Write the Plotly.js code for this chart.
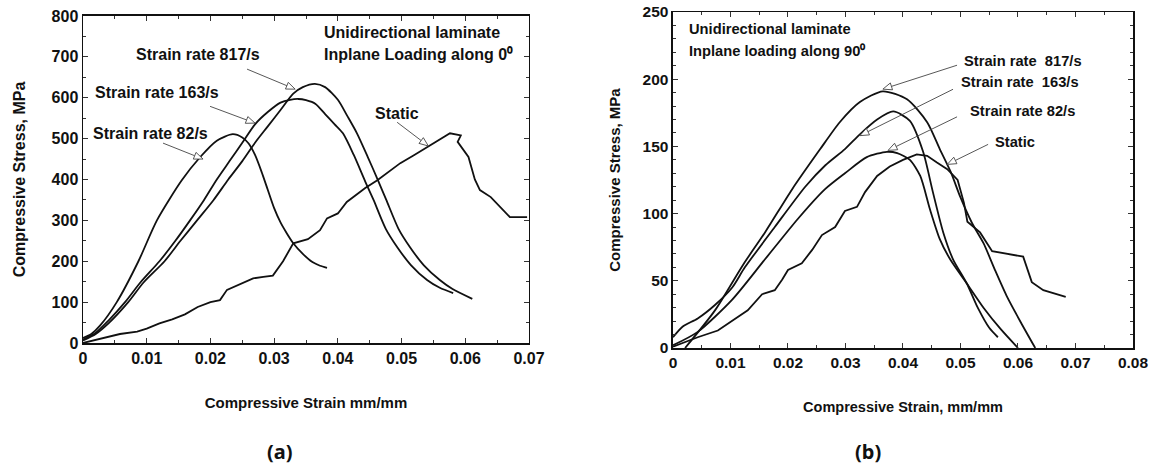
<!DOCTYPE html>
<html>
<head>
<meta charset="utf-8">
<script src="https://cdn.plot.ly/plotly-3.0.1.min.js"></script>
<style>html,body{margin:0;padding:0;background:#fff;}#chart{width:1151px;height:469px;}</style>
</head>
<body>
<div id="chart"></div>
<script>
// ---------- (a) Inplane loading along 0 deg ----------
const a82Strain = [0,0.0013,0.0027,0.0053,0.0087,0.0116,0.0155,0.0184,0.021,0.0235,0.025,0.026,0.027,0.028,0.029,0.030,0.031,0.032,0.033,0.0345,0.036,0.0372,0.0383];
const a82Stress = [12,22,43,100,200,300,398,455,495,511,503,488,460,420,375,330,295,268,244,218,198,189,184];

const a163Strain = [0,0.002,0.004,0.0066,0.009,0.012,0.0145,0.0168,0.019,0.021,0.023,0.025,0.027,0.029,0.031,0.0325,0.0338,0.035,0.0365,0.038,0.0395,0.0408,0.0425,0.0443,0.0456,0.0475,0.0493,0.0515,0.054,0.056,0.0581];
const a163Stress = [8,25,55,100,148,200,250,300,350,400,445,490,535,565,588,595,597,594,585,560,535,513,460,395,350,280,235,190,154,135,122];

const a817Strain = [0,0.002,0.004,0.0071,0.0095,0.0128,0.0153,0.0179,0.0205,0.0228,0.025,0.027,0.029,0.031,0.033,0.0345,0.0364,0.038,0.040,0.0415,0.043,0.0447,0.0463,0.0476,0.0495,0.0513,0.0535,0.056,0.058,0.0611];
const a817Stress = [6,22,48,100,148,200,250,300,350,400,445,490,530,570,610,626,634,626,595,555,513,455,398,350,280,235,190,154,132,108];

const aStaticStrain = [0,0.003,0.0058,0.0085,0.010,0.012,0.014,0.016,0.018,0.020,0.0215,0.0226,0.024,0.0255,0.0267,0.0283,0.0298,0.0314,0.033,0.0353,0.0372,0.0383,0.040,0.0414,0.0443,0.0462,0.048,0.0498,0.052,0.054,0.0565,0.0576,0.0593,0.0588,0.0605,0.0615,0.0623,0.064,0.067,0.0697];
const aStaticStress = [0,12,22,28,35,48,58,70,88,100,105,130,140,150,158,162,165,200,244,254,276,305,317,345,379,398,420,440,460,479,504,513,508,492,455,400,374,357,308,308];

// ---------- (b) Inplane loading along 90 deg ----------
const b817Strain = [0.0021,0.0073,0.0122,0.016,0.0207,0.0256,0.029,0.0325,0.0365,0.0407,0.0442,0.0464,0.0483,0.050,0.052,0.054,0.056,0.058,0.0605,0.063];
const b817Stress = [0,28,62,86,118,148,168,183,191,185,168,148,131,112,93,78,58,39,19,0];

const b163Strain = [0,0.0017,0.0043,0.0073,0.0103,0.0125,0.0177,0.023,0.0265,0.0299,0.0325,0.0355,0.0383,0.0412,0.0435,0.0452,0.047,0.0487,0.0511,0.053,0.055,0.0565];
const b163Stress = [8,16,22,32,45,60,90,120,136,148,159,170,176,169,146,116,86,66,48,30,15,8];

const b82Strain = [0,0.0043,0.0103,0.016,0.0217,0.0264,0.0299,0.0337,0.0372,0.039,0.0412,0.043,0.0447,0.0464,0.0482,0.0511,0.054,0.057,0.060];
const b82Stress = [2,12,36,66,96,118,130,142,146,145,140,128,103,81,66,48,30,14,0];

const bStaticStrain = [0,0.0043,0.0078,0.013,0.0155,0.0177,0.019,0.020,0.0224,0.0242,0.0259,0.0282,0.0299,0.032,0.0334,0.0355,0.0377,0.040,0.0424,0.0442,0.0459,0.0477,0.0495,0.0506,0.0512,0.0534,0.0555,0.0609,0.0624,0.0644,0.0683];
const bStaticStress = [1,8,13,28,40,43,51,58,63,73,84,90,102,105,116,128,135,140,144,143,138,133,125,108,94,86,72,68,49,43,38];

const FONT = 'Liberation Sans, Arial, sans-serif';
const lineStyle = {color: '#111', width: 1.8};

function curve(x, y, xa, ya, name, smooth) {
  return {x: x, y: y, xaxis: xa, yaxis: ya, name: name, mode: 'lines', type: 'scatter',
          line: Object.assign({}, lineStyle, smooth ? {shape: 'spline', smoothing: 0.7} : {}),
          showlegend: false, hoverinfo: 'skip'};
}

const traces = [
  curve(a82Strain, a82Stress, 'x', 'y', 'Strain rate 82/s', true),
  curve(a163Strain, a163Stress, 'x', 'y', 'Strain rate 163/s', true),
  curve(a817Strain, a817Stress, 'x', 'y', 'Strain rate 817/s', true),
  curve(aStaticStrain, aStaticStress, 'x', 'y', 'Static', false),
  curve(b817Strain, b817Stress, 'x2', 'y2', 'Strain rate 817/s', true),
  curve(b163Strain, b163Stress, 'x2', 'y2', 'Strain rate 163/s', true),
  curve(b82Strain, b82Stress, 'x2', 'y2', 'Strain rate 82/s', true),
  curve(bStaticStrain, bStaticStress, 'x2', 'y2', 'Static', false)
];

function tfont(size) { return {family: FONT, size: size, color: '#111', weight: 'bold'}; }

function axis(extra) {
  return Object.assign({
    showgrid: false, zeroline: false, showline: true, linecolor: '#111', linewidth: 1.5,
    mirror: 'allticks', ticks: 'inside', ticklen: 5, tickwidth: 1, tickcolor: '#333',
    tickfont: tfont(16), automargin: false,
    fixedrange: true
  }, extra);
}

function label(text, x, y, xref, yref, size, align) {
  return {text: text, x: x, y: y, xref: xref, yref: yref, showarrow: false,
          xanchor: align || 'center', yanchor: 'middle', font: tfont(size)};
}

// Pointer arrows (thin line + hollow triangular head), drawn as shapes.
// kx, ky: pixels per data unit of the axes, used only to give the head a fixed pixel size.
function pointer(tail, head, xref, yref, kx, ky) {
  const dxp = (head[0] - tail[0]) * kx, dyp = (head[1] - tail[1]) * ky;
  const L = Math.hypot(dxp, dyp), ux = dxp / L, uy = dyp / L;
  const hl = 9, hw = 3.6;
  const bx = head[0] - ux * hl / kx, by = head[1] - uy * hl / ky;
  const p1 = [bx - uy * hw / kx, by + ux * hw / ky];
  const p2 = [bx + uy * hw / kx, by - ux * hw / ky];
  return [
    {type: 'path', xref: xref, yref: yref, path: `M ${tail[0]},${tail[1]} L ${bx},${by}`,
     line: {color: '#444', width: 0.9}},
    {type: 'path', xref: xref, yref: yref,
     path: `M ${head[0]},${head[1]} L ${p1[0]},${p1[1]} L ${p2[0]},${p2[1]} Z`,
     fillcolor: '#fff', line: {color: '#444', width: 0.9}}
  ];
}

const KXA = 446 / 0.07, KYA = 327 / 800, KXB = 460 / 0.08, KYB = 336 / 250;

const shapes = [].concat(
  pointer([0.02575, 670], [0.0333, 621], 'x', 'y', KXA, KYA),
  pointer([0.01994, 579], [0.027, 538], 'x', 'y', KXA, KYA),
  pointer([0.01256, 489], [0.01884, 450], 'x', 'y', KXA, KYA),
  pointer([0.0493, 540], [0.0542, 482], 'x', 'y', KXA, KYA),
  pointer([0.0494, 210.4], [0.0365, 192.6], 'x2', 'y2', KXB, KYB),
  pointer([0.0487, 192.5], [0.0325, 158], 'x2', 'y2', KXB, KYB),
  pointer([0.0494, 172], [0.0374, 147], 'x2', 'y2', KXB, KYB),
  pointer([0.0548, 151.5], [0.0477, 136.6], 'x2', 'y2', KXB, KYB)
);

const panelFont = {family: 'Noto Sans, sans-serif', size: 20, color: '#111', weight: 'bold'};

const layout = {
  width: 1151, height: 469,
  margin: {l: 83, r: 18, t: 12, b: 121},
  paper_bgcolor: '#fff', plot_bgcolor: '#fff',
  xaxis: axis({domain: [0, 0.42476], range: [0, 0.07], dtick: 0.01, tick0: 0, anchor: 'y',
               title: {text: 'Compressive Strain mm/mm', font: tfont(15), standoff: 32},
               minor: {dtick: 0.005, ticks: 'inside', ticklen: 3, tickcolor: '#333'}}),
  yaxis: axis({domain: [0.01488, 0.9881], range: [0, 800], dtick: 100, tick0: 0, anchor: 'x',
               title: {text: 'Compressive Stress, MPa', font: tfont(16), standoff: 22},
               minor: {dtick: 50, ticks: 'inside', ticklen: 3, tickcolor: '#333'}}),
  xaxis2: axis({domain: [0.5619, 1.0], range: [0, 0.08], dtick: 0.01, tick0: 0, anchor: 'y2',
               tickfont: tfont(15.5),
               title: {text: 'Compressive Strain, mm/mm', font: tfont(14.5), standoff: 32},
               minor: {dtick: 0.005, ticks: 'inside', ticklen: 3, tickcolor: '#333'}}),
  yaxis2: axis({domain: [0, 1], range: [0, 250], dtick: 50, tick0: 0, anchor: 'x2',
               tickfont: tfont(15.5),
               title: {text: 'Compressive Stress, MPa', font: tfont(15), standoff: 18},
               minor: {dtick: 10, ticks: 'inside', ticklen: 3, tickcolor: '#333'}}),
  shapes: shapes,
  annotations: [
    Object.assign(label('(a)', 0.1876, -0.3095, 'paper', 'paper', 20), {font: panelFont}),
    Object.assign(label('(b)', 0.7476, -0.3095, 'paper', 'paper', 20), {font: panelFont}),
    // (a) texts
    label('Unidirectional laminate', 0.03752, 760, 'x', 'y', 16, 'left'),
    label('Inplane Loading along 0\u2070', 0.03752, 706.6, 'x', 'y', 16, 'left'),
    label('Strain rate 817/s', 0.01805, 706.6, 'x', 'y', 16),
    label('Strain rate 163/s', 0.01162, 613.7, 'x', 'y', 16),
    label('Strain rate 82/s', 0.01052, 513.4, 'x', 'y', 16),
    label('Static', 0.0493, 562, 'x', 'y', 16),
    // (b) texts
    label('Unidirectional laminate', 0.00243, 237.3, 'x2', 'y2', 14.7, 'left'),
    label('Inplane loading along 90\u2070', 0.00243, 221, 'x2', 'y2', 14.7, 'left'),
    label('Strain rate  817/s', 0.0609, 213.4, 'x2', 'y2', 14.7),
    label('Strain rate  163/s', 0.0603, 197.8, 'x2', 'y2', 14.7),
    label('Strain rate 82/s', 0.0607, 176, 'x2', 'y2', 14.7),
    label('Static', 0.0595, 153, 'x2', 'y2', 14.7)
  ]
};

Plotly.newPlot('chart', traces, layout, {displayModeBar: false, staticPlot: true});
</script>
</body>
</html>
